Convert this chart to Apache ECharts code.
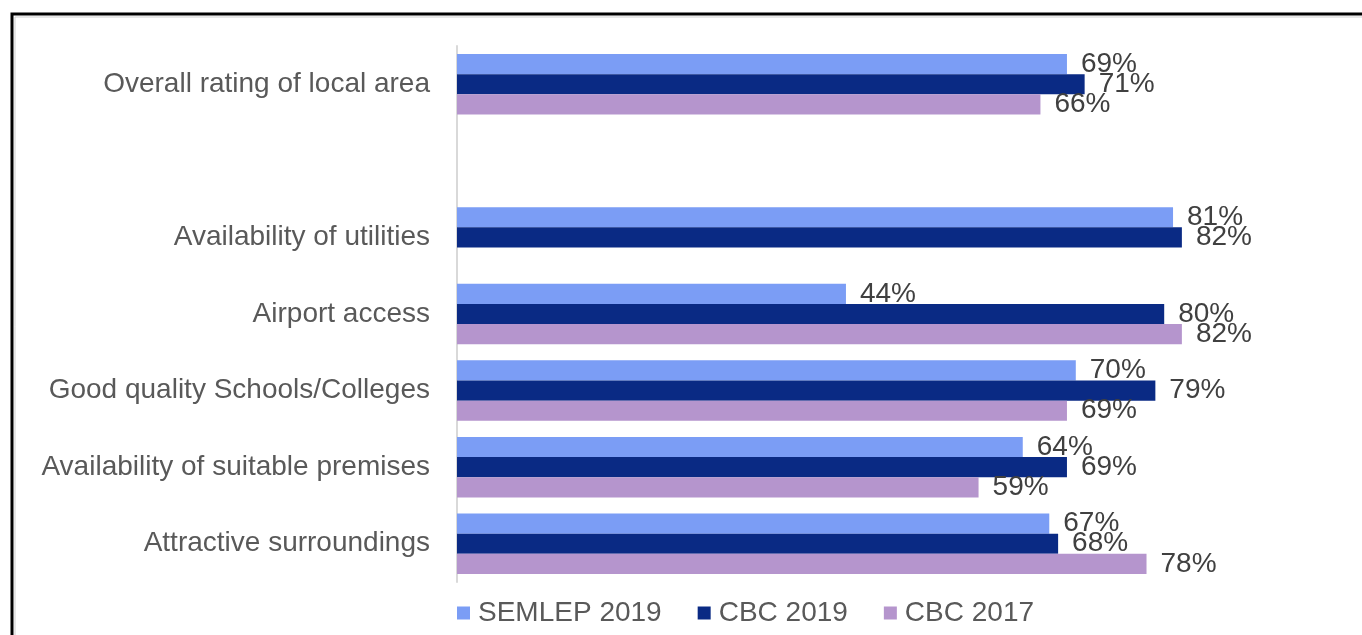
<!DOCTYPE html>
<html>
<head>
<meta charset="utf-8">
<style>
  html, body { margin: 0; padding: 0; background: #fff; }
  #chart { width: 1362px; height: 635px; }
</style>
<script src="https://cdn.jsdelivr.net/npm/echarts@6/dist/echarts.min.js"></script>
</head>
<body>
<div id="chart"></div>
<script>
// Ratings of the local area as a business location (% satisfied)
const categories = [
  'Overall rating of local area',
  '',
  'Availability of utilities',
  'Airport access',
  'Good quality Schools/Colleges',
  'Availability of suitable premises',
  'Attractive surroundings'
];
const seriesNames = ['SEMLEP 2019', 'CBC 2019', 'CBC 2017'];
const semlep2019 = [69, null, 81, 44, 70, 64, 67];
const cbc2019    = [71, null, 82, 80, 79, 69, 68];
const cbc2017    = [66, null, null, 82, 69, 59, 78];
const colors = ['#7b9df5', '#0a2a84', '#b595cd'];

const FONT = '"Liberation Sans", Arial, sans-serif';

function barSeries(name, data, color) {
  return {
    name: name,
    type: 'bar',
    data: data,
    barGap: '0%',
    barCategoryGap: '21%',
    itemStyle: { color: color },
    label: {
      show: true,
      position: 'right',
      distance: 14,
      formatter: p => (p.value == null ? '' : p.value + '%'),
      fontFamily: FONT,
      fontSize: 28,
      color: '#404040'
    },
    emphasis: { disabled: true },
    animation: false
  };
}

const chart = echarts.init(document.getElementById('chart'), null, { renderer: 'canvas' });
chart.setOption({
  backgroundColor: '#ffffff',
  animation: false,
  color: colors,
  grid: { left: 457, right: 21, top: 46, bottom: 53, containLabel: false },
  xAxis: {
    type: 'value',
    min: 0,
    max: 100,
    show: false
  },
  yAxis: {
    type: 'category',
    data: categories,
    inverse: true,
    axisLine: { show: true, lineStyle: { color: '#d9d9d9', width: 2 } },
    axisTick: { show: false },
    splitLine: { show: false },
    axisLabel: {
      margin: 27,
      fontFamily: FONT,
      fontSize: 28,
      color: '#595959'
    }
  },
  legend: {
    data: seriesNames,
    left: 452,
    top: 594,
    icon: 'rect',
    itemWidth: 13,
    itemHeight: 13,
    itemGap: 36,
    selectedMode: false,
    textStyle: {
      fontFamily: FONT,
      fontSize: 28,
      color: '#595959',
      padding: [0, 0, 0, 3]
    }
  },
  // frame around the chart area (top and left edges)
  graphic: [
    {
      type: 'polyline',
      shape: { points: [[12, 640], [12, 14], [1370, 14]] },
      style: { stroke: '#000', lineWidth: 3, fill: null },
      silent: true
    },
    {
      type: 'polyline',
      shape: { points: [[15, 640], [15, 17], [1370, 17]] },
      style: { stroke: '#cfcfcf', lineWidth: 1, fill: null },
      silent: true
    }
  ],
  series: [
    barSeries(seriesNames[0], semlep2019, colors[0]),
    barSeries(seriesNames[1], cbc2019, colors[1]),
    barSeries(seriesNames[2], cbc2017, colors[2])
  ]
});
</script>
</body>
</html>
